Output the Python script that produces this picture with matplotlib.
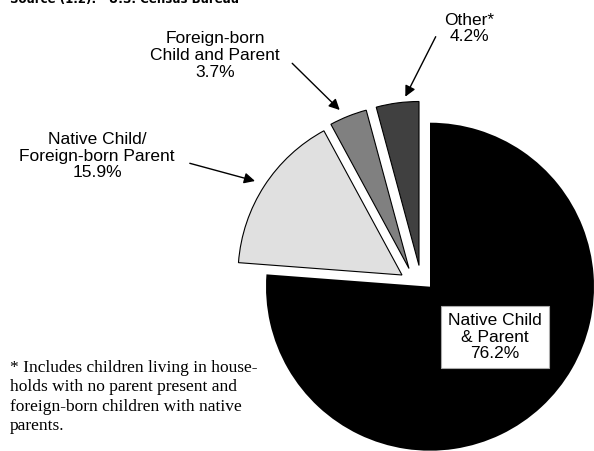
import numpy as np
import matplotlib.pyplot as plt

# shares of children by nativity of child and parent (percent)
groups = ["Other*", "Foreign-born\nChild and Parent", "Native Child/\nForeign-born Parent", "Native Child\n& Parent"]
shares = [4.2, 3.7, 15.9, 76.2]
colors = ["#404040", "#808080", "#e0e0e0", "#000000"]

H = 451


def yp(y):
    # page units measured from the top
    return H - y


fig = plt.figure(figsize=(5.94, 4.51), dpi=100)
ax = fig.add_axes([0, 0, 1, 1])

cx, cy, r = 430, yp(286.7), 164
wedges, _ = ax.pie(shares, colors=colors, startangle=90, counterclock=True,
                   radius=r, center=(cx, cy), frame=True,
                   wedgeprops=dict(edgecolor="black", linewidth=0.8))

# pull the small slices away from the big one
shifts = [(-11, 21.2), (-21, 18.2), (-28, 11.7), (0, 0)]
for w, (dx, dy) in zip(wedges, shifts):
    w.set_center((cx + dx, cy + dy))
wedges[3].set_edgecolor("none")

ax.set_xlim(0, 594)
ax.set_ylim(0, H)
ax.set_aspect("auto")
ax.axis("off")

lab = dict(ha="center", va="center", fontsize=12.5, family="Liberation Sans",
           linespacing=1.13)
ax.text(469, yp(28.7), f"{groups[0]}\n{shares[0]}%", **lab)
ax.text(215, yp(55.5), f"{groups[1]}\n{shares[1]}%", **lab)
ax.text(97, yp(156), f"{groups[2]}\n{shares[2]}%", **lab)
ax.text(495, yp(337), f"{groups[3]}\n{shares[3]}%",
        bbox=dict(boxstyle="square,pad=0.4", fc="white", ec="#aaaaaa", lw=0.8), **lab)

arrow = dict(arrowstyle="-|>", color="black", lw=1.0, mutation_scale=16,
             shrinkA=0, shrinkB=0)
ax.annotate("", xy=(405.3, yp(96.7)), xytext=(435.7, yp(36.7)), arrowprops=arrow)
ax.annotate("", xy=(339.7, yp(110)), xytext=(292.2, yp(63.3)), arrowprops=arrow)
ax.annotate("", xy=(255, yp(181)), xytext=(189.8, yp(163.3)), arrowprops=arrow)

ax.text(10, yp(3.5), "Source (1.2):   U.S. Census Bureau", va="baseline", ha="left",
        fontsize=8.5, weight="bold", family="DejaVu Sans")

ax.text(10, yp(397), "* Includes children living in house-\n"
        "holds with no parent present and\n"
        "foreign-born children with native\n"
        "parents.", ha="left", va="center", fontsize=12.5,
        family="Liberation Serif", linespacing=1.26)

fig.savefig("out.png", dpi=100)
